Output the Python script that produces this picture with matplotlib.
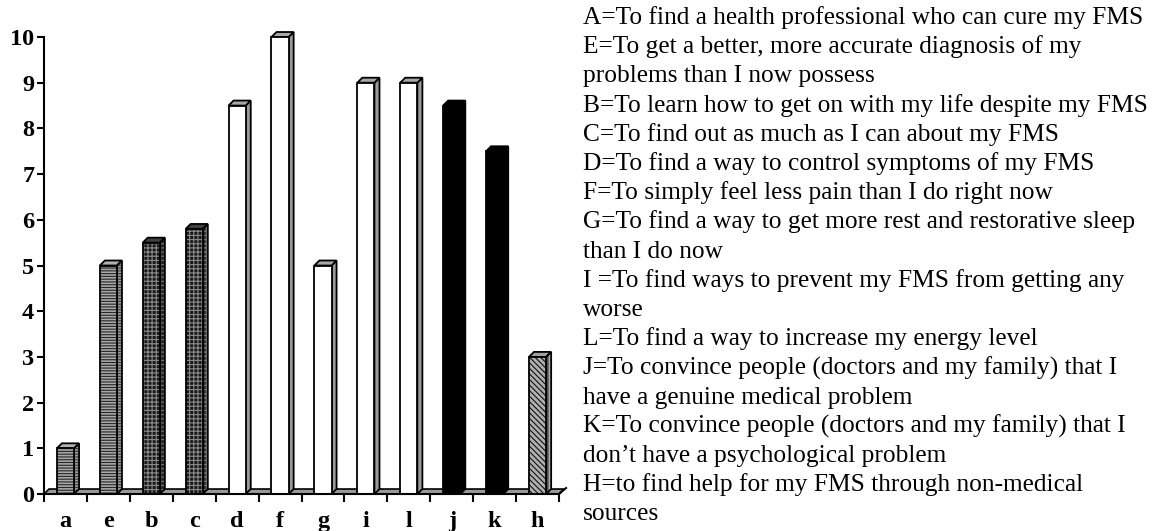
import matplotlib
matplotlib.use("Agg")
import matplotlib.pyplot as plt
import numpy as np

categories = ["a", "e", "b", "c", "d", "f", "g", "i", "l", "j", "k", "h"]
values = [1, 5, 5.5, 5.8, 8.5, 10, 5, 9, 9, 8.5, 7.5, 3]
styles = ["stripe", "stripe", "grid", "grid", "white", "white", "white",
          "white", "white", "black", "black", "diag"]
y_ticks = list(range(0, 11))
legend_lines = [
    "A=To find a health professional who can cure my FMS",
    "E=To get a better, more accurate diagnosis of my",
    "problems than I now possess",
    "B=To learn how to get on with my life despite my FMS",
    "C=To find out as much as I can about my FMS",
    "D=To find a way to control symptoms of my FMS",
    "F=To simply feel less pain than I do right now",
    "G=To find a way to get more rest and restorative sleep",
    "than I do now",
    "I =To find ways to prevent my FMS from getting any",
    "worse",
    "L=To find a way to increase my energy level",
    "J=To convince people (doctors and my family) that I",
    "have a genuine medical problem",
    "K=To convince people (doctors and my family) that I",
    "don\u2019t have a psychological problem",
    "H=to find help for my FMS through non-medical",
    "sources",
]

plt.rcParams["hatch.linewidth"] = 0.8
W, H = 1152, 531
fig = plt.figure(figsize=(W / 100, H / 100), dpi=100)
ax = fig.add_axes([44 / W, (H - 494) / H, 515 / W, 457 / H])
n = len(categories)
ax.set_xlim(0, n)
ax.set_ylim(0, 10)

dx, dy = 0.117, 0.109
w = 0.40
xs = np.arange(n) + 0.5

# floor
ax.fill([0, n, n + dx, dx], [0, 0, dy, dy], facecolor="#9a9a9a",
        edgecolor="black", lw=1.2, zorder=1, clip_on=False)

face = {
    "stripe": dict(fc="#a8a8a8", hatch="------", hc="#262626"),
    "grid": dict(fc="#1a1a1a", hatch="++++", hc="#8a8a8a"),
    "white": dict(fc="white", hatch=None, hc=None),
    "black": dict(fc="black", hatch=None, hc=None),
    "diag": dict(fc="#b0b0b0", hatch="\\\\\\\\\\\\", hc="#111111"),
}
side = {
    "stripe": dict(fc="#9a9a9a", hatch="------", hc="#3a3a3a"),
    "grid": dict(fc="#262626", hatch="++++", hc="#777777"),
    "white": dict(fc="#9a9a9a", hatch=None, hc=None),
    "black": dict(fc="black", hatch=None, hc=None),
    "diag": dict(fc="#b0b0b0", hatch="||||", hc="#222222"),
}
top = {
    "stripe": "#b0b0b0", "grid": "#404040", "white": "#a8a8a8",
    "black": "black", "diag": "#a0a0a0",
}


def poly(px, py, spec, z):
    if spec["hatch"]:
        ax.fill(px, py, facecolor=spec["fc"], edgecolor=spec["hc"],
                hatch=spec["hatch"], lw=0, zorder=z, clip_on=False)
        ax.fill(px, py, fill=False, edgecolor="black", lw=1.3, zorder=z + 0.1,
                clip_on=False)
    else:
        ax.fill(px, py, facecolor=spec["fc"], edgecolor="black", lw=1.3,
                zorder=z, clip_on=False)


for x, v, s in zip(xs, values, styles):
    l, r = x - w / 2, x + w / 2
    # side face
    poly([r, r + dx, r + dx, r], [0, dy, v + dy, v], side[s], 3)
    # top face
    ax.fill([l, l + dx, r + dx, r], [v, v + dy, v + dy, v], facecolor=top[s],
            edgecolor="black", lw=1.3, zorder=3, clip_on=False)
    # front face
    fs = face[s]
    if fs["hatch"]:
        ax.bar(x, v, width=w, color=fs["fc"], edgecolor=fs["hc"],
               hatch=fs["hatch"], lw=0, zorder=4, clip_on=False)
        ax.bar(x, v, width=w, fill=False, edgecolor="black", lw=1.3,
               zorder=4.1, clip_on=False)
    else:
        ax.bar(x, v, width=w, color=fs["fc"], edgecolor="black", lw=1.3,
               zorder=4, clip_on=False)

# right end slant of axis
ax.plot([n, n + dx * 1.4], [0, dy * 1.2], color="black", lw=1.5,
        clip_on=False, zorder=5)

for sp in ["top", "right"]:
    ax.spines[sp].set_visible(False)
for sp in ["left", "bottom"]:
    ax.spines[sp].set_linewidth(1.5)
    ax.spines[sp].set_zorder(5)

tick_font = dict(family="Liberation Serif", weight="bold", size=17.5)
ax.set_yticks(y_ticks)
ax.set_yticklabels([str(t) for t in y_ticks], **tick_font)
ax.tick_params(axis="y", direction="out", length=5, width=1.5, pad=2)

ax.set_xticks(np.arange(0, n + 1))
ax.set_xticklabels([])
ax.tick_params(axis="x", which="major", direction="out", length=6, width=1.5)
ax.set_xticks(xs, minor=True)
ax.set_xticklabels(categories, minor=True, **tick_font)
ax.tick_params(axis="x", which="minor", length=0, pad=12)

base0 = 24
step = 29.2
for i, line in enumerate(legend_lines):
    fig.text(583 / W, 1 - (base0 + i * step) / H, line,
             family="Liberation Serif", size=18.3, va="baseline", ha="left")

fig.savefig("out.png", dpi=100)
